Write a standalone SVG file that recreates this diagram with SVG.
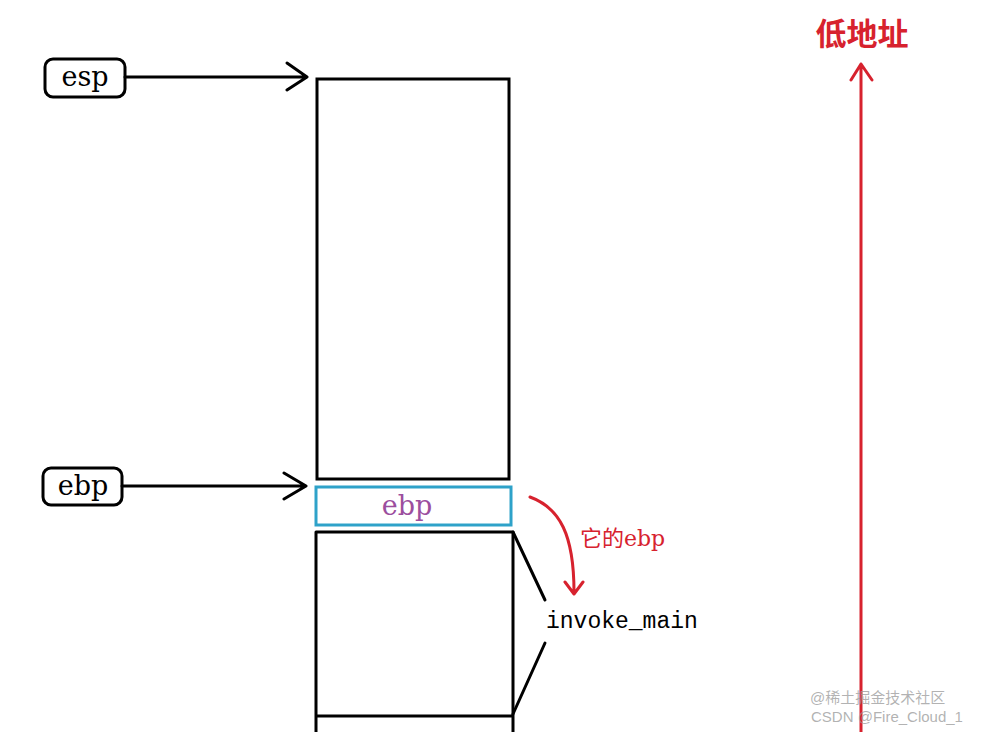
<svg xmlns="http://www.w3.org/2000/svg" width="992" height="732" viewBox="0 0 992 732">
<style>
.blk{fill:none;stroke:#000;stroke-width:3;stroke-linecap:round;stroke-linejoin:round}
.reg{fill:#fff;stroke:#000;stroke-width:3}
.regt{font-family:"DejaVu Serif",serif;font-size:27px;fill:#000}
.red{fill:none;stroke:#d7222e;stroke-width:3;stroke-linecap:round;stroke-linejoin:round}
.wm{font-family:"Liberation Sans","Noto Sans CJK SC",sans-serif;font-size:15px;fill:#999;fill-opacity:0.75}
</style>
<rect width="992" height="732" fill="#fff"/>
<g id="stack-top">
<rect x="317" y="79" width="192" height="400" fill="#fff" stroke="#000" stroke-width="3"/>
</g>
<g id="saved-ebp">
<rect x="316" y="487" width="195" height="38" fill="#fff" stroke="#2ea2c9" stroke-width="3"/>
<text x="407" y="515" text-anchor="middle" font-family="DejaVu Serif,serif" font-size="27" fill="#9c4e9e">ebp</text>
</g>
<g id="invoke-main-frame">
<path class="blk" d="M316 732 V532 H513 V732 M316 716 H513" stroke-linecap="butt"/>
</g>
<g id="esp-label">
<rect class="reg" x="45" y="59" width="80" height="38" rx="8"/>
<text class="regt" x="85" y="86" text-anchor="middle">esp</text>
</g>
<g id="ebp-label">
<rect class="reg" x="43" y="468" width="79" height="37" rx="8"/>
<text class="regt" x="83" y="495" text-anchor="middle">ebp</text>
</g>
<g id="invoke-main-label">
<text x="546" y="628" font-family="Liberation Mono,monospace" font-size="23" fill="#000">invoke_main</text>
</g>
<g id="low-address">
<text x="862" y="45" text-anchor="middle" font-family="Noto Sans CJK SC,sans-serif" font-weight="bold" font-size="31" fill="#d7222e">低地址</text>
</g>
<g id="connectors">
<path class="blk" d="M125 77 H306 M287 63 L307 77 L287 90"/>
<path class="blk" d="M122 486 H305 M284 473 L306 486 L284 499"/>
<path class="blk" d="M513 532 L545 600 M545 643 L513 714"/>
<path class="red" d="M530 497 C560 508 574 535 574 592 M565 582 L574 594 L583 582"/>
<text x="580" y="546" font-family="DejaVu Serif,Noto Sans CJK SC,serif" font-size="22" fill="#d7222e">它的ebp</text>
<path class="red" stroke-width="3.5" d="M861 732 V64 M851 80 L861 64 L872 80"/>
</g>
<g id="watermark">
<text class="wm" x="810" y="703">@稀土掘金技术社区</text>
<text class="wm" x="811" y="722">CSDN @Fire_Cloud_1</text>
</g>
</svg>
